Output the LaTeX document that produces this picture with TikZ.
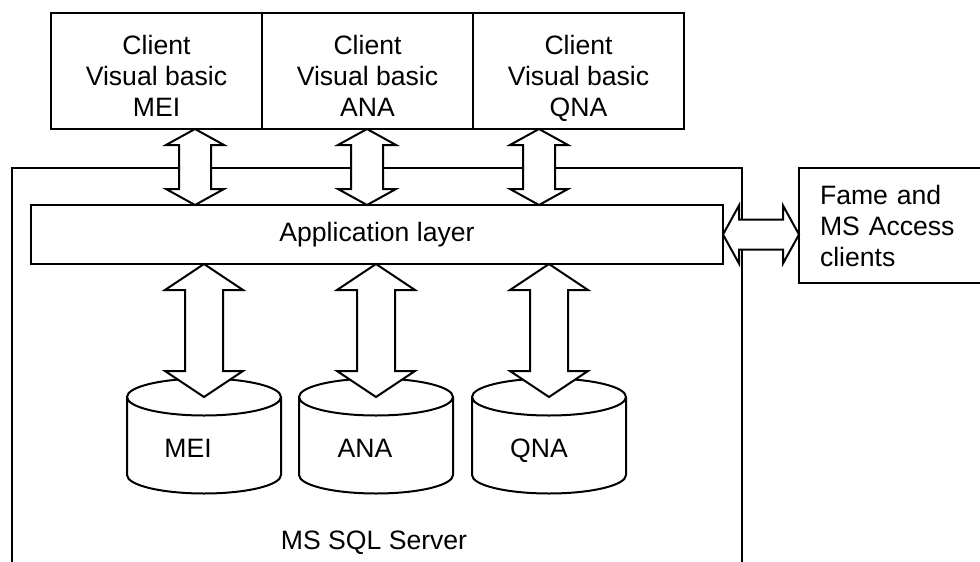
\documentclass[tikz,border=0pt]{standalone}
\usepackage{fontspec}
\setmainfont{Liberation Sans}
\usetikzlibrary{positioning,calc}

% fat double arrows: tip, tip, shaft half width, head half width, head length
\newcommand{\vbiarrow}[5]{%
  \draw[fat] let \p1=(#1), \p2=(#2) in
    (\p1) -- ++(-#4,-#5) -- ++(#4-#3,0) -- (\x1-#3,\y2+#5) -- ++(#3-#4,0)
    -- (\x1,\y2) -- ++(#4,#5) -- ++(#3-#4,0) -- (\x1+#3,\y1-#5) -- ++(#4-#3,0) -- cycle;}
\newcommand{\hbiarrow}[5]{%
  \draw[fat] let \p1=(#1), \p2=(#2) in
    (\p1) -- ++(#5,#4) -- ++(0,#3-#4) -- (\x2-#5,\y1+#3) -- ++(0,#4-#3)
    -- (\x2,\y1) -- ++(-#5,-#4) -- ++(0,#4-#3) -- (\x1+#5,\y1-#3) -- ++(0,#3-#4) -- cycle;}

\begin{document}
\begin{tikzpicture}[x=0.5pt, y=-0.5pt,
  font=\fontsize{13.3pt}{15.5pt}\selectfont,
  box/.style={rectangle, draw, line width=1pt, outer sep=0pt, inner sep=0pt, align=center},
  client/.style={box, minimum width=105.5pt, minimum height=58pt},
  db/.style={minimum width=77pt, minimum height=39pt, inner sep=0pt, outer sep=0pt},
  dblabel/.style={text height=9.6pt, text depth=0pt, yshift=-5.75pt},
  fat/.style={draw, fill=white, line width=1pt, line join=miter}
]
  \clip (0,0) rectangle (980,562);

  % clients (top row)
  \node[client] (cmei) at (156.5,71) {\rule{0pt}{19.3pt}Client\\Visual basic\\MEI\strut};
  \node[client, right=0pt of cmei] (cana) {\rule{0pt}{19.3pt}Client\\Visual basic\\ANA\strut};
  \node[client, right=0pt of cana] (cqna) {\rule{0pt}{19.3pt}Client\\Visual basic\\QNA\strut};

  % server with application layer and databases
  \node[box, minimum width=365pt, minimum height=216pt] (server) at (377,384) {};
  \node[box, fill=white, minimum width=346pt, minimum height=29.5pt] (app) at (377,234.5) {Application layer};
  \node[db, label={[dblabel, xshift=-8pt]center:MEI}] (mei) at (204,436) {};
  \node[db, label={[dblabel, xshift=-5.5pt]center:ANA}] (ana) at (376,436) {};
  \node[db, label={[dblabel, xshift=-5pt]center:QNA}] (qna) at (549,436) {};
  \foreach \n in {mei,ana,qna}
    \draw[line width=1pt] (\n.north west) -- (\n.south west)
      arc[start angle=180, end angle=360, x radius=38.5pt, y radius=9.25pt]
      -- (\n.north east) arc[start angle=0, end angle=360, x radius=38.5pt, y radius=9.25pt];
  \node (sql) at (374,543) {MS SQL Server};

  % other clients
  \node[box, minimum height=57.5pt, text width=79.5pt, inner xsep=10.5pt, align=left] (fame) at (899.5,225.5) {Fame and\\MS Access\\clients};

  % clients to application layer
  \coordinate (t1) at ($(cmei.south -| mei.center)+(-9,0)$);
  \coordinate (t2) at ($(cana.south -| ana.center)+(-9,0)$);
  \coordinate (t3) at ($(cqna.south -| qna.center)+(-10,0)$);
  \vbiarrow{t1}{app.north -| t1}{8pt}{14.5pt}{8pt}
  \vbiarrow{t2}{app.north -| t2}{8pt}{14.5pt}{8pt}
  \vbiarrow{t3}{app.north -| t3}{8pt}{14.5pt}{8pt}

  % application layer to databases
  \vbiarrow{app.south -| mei.center}{mei.north}{9.5pt}{19.5pt}{13pt}
  \vbiarrow{app.south -| ana.center}{ana.north}{9.5pt}{19.5pt}{13pt}
  \vbiarrow{app.south -| qna.center}{qna.north}{9.5pt}{19.5pt}{13pt}

  % application layer to fame clients
  \hbiarrow{app.east}{fame.west}{7.5pt}{14.5pt}{8pt}
\end{tikzpicture}
\end{document}
